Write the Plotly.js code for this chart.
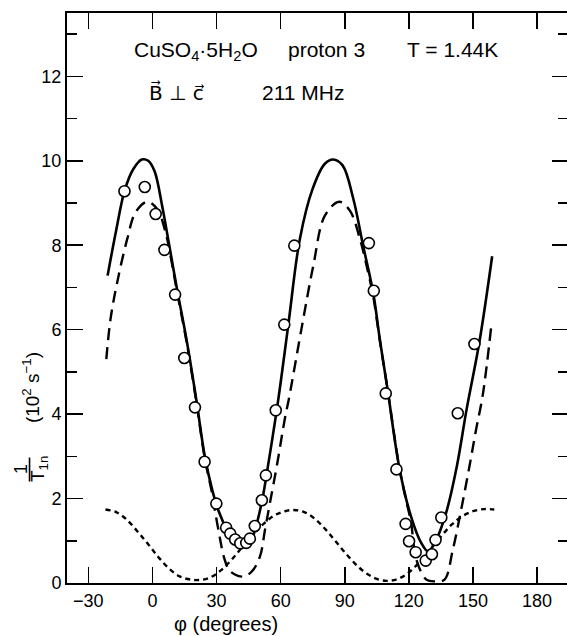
<!DOCTYPE html>
<html>
<head>
<meta charset="utf-8">
<script src="https://cdn.plot.ly/plotly-3.0.1.min.js"></script>
<style>
html,body{margin:0;padding:0;background:#fff;overflow:hidden;}
#chart{width:570px;height:636px;}
</style>
</head>
<body>
<div id="chart"></div>
<script>
// Measured relaxation rates (open circles)
const phiObs = [-13.1, -3.6, 1.5, 5.6, 10.6, 14.9, 19.9, 24.4, 29.9, 34.5, 36.4, 38.7, 41.1, 43.9, 45.6, 47.9, 51.2, 53.1, 57.7, 61.7, 66.4, 101.3, 103.6, 109.2, 114.2, 118.5, 120.1, 123.2, 127.9, 130.8, 132.5, 135.2, 142.9, 150.7];
const rateObs = [9.28, 9.38, 8.74, 7.89, 6.83, 5.33, 4.16, 2.87, 1.88, 1.31, 1.17, 1.03, 0.94, 0.95, 1.05, 1.35, 1.96, 2.55, 4.09, 6.12, 7.99, 8.05, 6.92, 4.49, 2.69, 1.40, 0.99, 0.73, 0.53, 0.68, 1.02, 1.55, 4.02, 5.66];

// Solid curve
const phiSolid = [-21, -17, -13, -9, -5, -2, 1, 4.5, 7.5, 11.5, 16, 20.5, 24.5, 28, 31, 35, 39, 42.5, 46, 48.5, 51.5, 54, 58.9, 63.6, 69, 75, 80.7, 84.6, 89, 94, 98.6, 103.3, 106.4, 110, 115.7, 121, 125.8, 129, 132.9, 137.5, 142.5, 147, 153, 159];
const rateSolid = [7.28, 8.35, 9.3, 9.8, 10.03, 10.0, 9.75, 8.94, 8.1, 6.96, 5.75, 4.35, 3.0, 2.2, 1.7, 1.25, 0.95, 0.87, 1.0, 1.35, 2.0, 2.75, 4.35, 6.12, 8.15, 9.34, 9.93, 10.03, 9.89, 9.1, 7.99, 6.88, 5.78, 4.6, 2.69, 1.58, 0.95, 0.75, 1.03, 1.67, 2.77, 4.1, 5.7, 7.74];

// Dashed curve
const phiDash = [-21.6, -19.6, -16.5, -11.8, -7.9, -2.5, 2.2, 6.1, 9, 11.5, 16, 20.5, 24.5, 28, 29.4, 31.7, 33.3, 36, 40, 43.4, 47, 50.4, 52.7, 55, 58.2, 62, 64, 70, 75.3, 80.7, 87.4, 92.4, 97.1, 100.2, 103.3, 106.4, 110, 115.7, 119, 121, 123.5, 128.2, 132.8, 136.7, 140.6, 144.5, 148.4, 151.5, 154.6, 158.5];
const rateDash = [5.30, 6.26, 7.12, 8.15, 8.78, 9.03, 8.86, 8.31, 7.6, 6.9, 5.7, 4.3, 2.95, 2.1, 1.67, 1.03, 0.64, 0.3, 0.17, 0.16, 0.3, 0.64, 1.27, 1.9, 2.77, 3.9, 4.4, 6.09, 7.52, 8.7, 9.03, 8.82, 8.15, 7.52, 6.8, 5.75, 4.6, 2.69, 1.9, 1.45, 0.56, 0.08, 0.04, 0.08, 0.79, 1.74, 2.77, 3.64, 4.45, 6.05];

// Dotted curve
const phiDot = [-22, -17, -12, -7, -2, 3, 8, 13, 18, 22, 27, 32, 37, 42, 47, 52, 57, 62, 66, 71, 76, 81, 86, 91, 96, 101, 106, 110, 115, 120, 125, 130, 135, 140, 145, 150, 155, 160];
const rateDot = [1.74, 1.68, 1.5, 1.22, 0.92, 0.6, 0.33, 0.15, 0.08, 0.07, 0.13, 0.3, 0.55, 0.85, 1.15, 1.4, 1.6, 1.7, 1.73, 1.68, 1.52, 1.27, 0.97, 0.67, 0.4, 0.2, 0.08, 0.05, 0.1, 0.25, 0.5, 0.8, 1.1, 1.38, 1.58, 1.7, 1.75, 1.74];

const xTicks = [-30, 0, 30, 60, 90, 120, 150, 180];
const yTicks = [0, 2, 4, 6, 8, 10, 12];

// pixel geometry helpers for annotations
const W = 570, H = 636;
const mL = 66.5, mR = 2, mT = 13.3, mB = 52.5;
const pw = W - mL - mR, ph = H - mT - mB;
const px = x => (x - mL) / pw;
const py = y => (H - mB - y) / ph;

const FONT = 'Liberation Sans, Arial, sans-serif';
const FONT2 = 'DejaVu Sans, sans-serif';

const traces = [
  {x: phiDot, y: rateDot, mode: 'lines', line: {color: '#000', width: 2.4, dash: '5px,4px', shape: 'spline', smoothing: 1}, hoverinfo: 'skip'},
  {x: phiDash, y: rateDash, mode: 'lines', line: {color: '#000', width: 2.4, dash: '12px,7px', shape: 'spline', smoothing: 1}, hoverinfo: 'skip'},
  {x: phiSolid, y: rateSolid, mode: 'lines', line: {color: '#000', width: 2.6, shape: 'spline', smoothing: 1}, hoverinfo: 'skip'},
  {x: phiObs, y: rateObs, mode: 'markers', marker: {symbol: 'circle', size: 11, color: '#fff', line: {color: '#000', width: 1.6}}}
];

const ann = (x, y, text, size, extra, fam) => Object.assign({
  xref: 'paper', yref: 'paper', x: px(x), y: py(y), text: text, showarrow: false,
  xanchor: 'center', yanchor: 'middle', font: {family: fam || FONT, size: size, color: '#000'}
}, extra || {});

const layout = {
  width: W, height: H,
  margin: {l: mL, r: mR, t: mT, b: mB, pad: 0},
  paper_bgcolor: '#fff', plot_bgcolor: '#fff',
  showlegend: false,
  font: {family: FONT, size: 18, color: '#000'},
  xaxis: {
    range: [-40, 194.5], tickvals: xTicks, ticktext: xTicks.map(v => v < 0 ? '\u2212' + Math.abs(v) : String(v)),
    ticks: 'inside', ticklen: 16, tickwidth: 1.6, tickcolor: '#000',
    showline: true, linecolor: '#000', linewidth: 2, mirror: 'ticks',
    showgrid: false, zeroline: false, tickfont: {family: FONT, size: 18}
  },
  yaxis: {
    range: [0, 13.5], tickvals: yTicks,
    ticks: 'inside', ticklen: 16, tickwidth: 1.6, tickcolor: '#000',
    minor: {dtick: 1, tick0: 0, ticks: 'inside', ticklen: 10, tickwidth: 1.6, tickcolor: '#000', showgrid: false},
    showline: true, linecolor: '#000', linewidth: 2, mirror: 'ticks',
    showgrid: false, zeroline: false, tickfont: {family: FONT, size: 18}
  },
  annotations: [
    ann(196, 51, 'CuSO<sub>4</sub>\u00B75H<sub>2</sub>O', 21),
    ann(326, 50, 'proton 3', 21),
    ann(452, 50, 'T = 1.44K', 21),
    ann(176, 93, 'B\u20D7 \u22A5 c\u20D7', 20, null, FONT2),
    ann(303, 93, '211 MHz', 21),
    ann(226, 625, '\u03C6 (degrees)', 20),
    ann(30, 388, '(10<sup>2</sup> s<sup>\u22121</sup>)', 19, {textangle: -90}),
    ann(20, 470, '1', 18, {textangle: -90}),
    ann(38, 470, 'T<sub>1n</sub>', 19, {textangle: -90})
  ],
  shapes: [
    {type: 'line', xref: 'paper', yref: 'paper', x0: px(29), x1: px(29), y0: py(458), y1: py(482), line: {color: '#000', width: 1.6}}
  ]
};

Plotly.newPlot('chart', traces, layout, {staticPlot: true, displayModeBar: false});
</script>
</body>
</html>
